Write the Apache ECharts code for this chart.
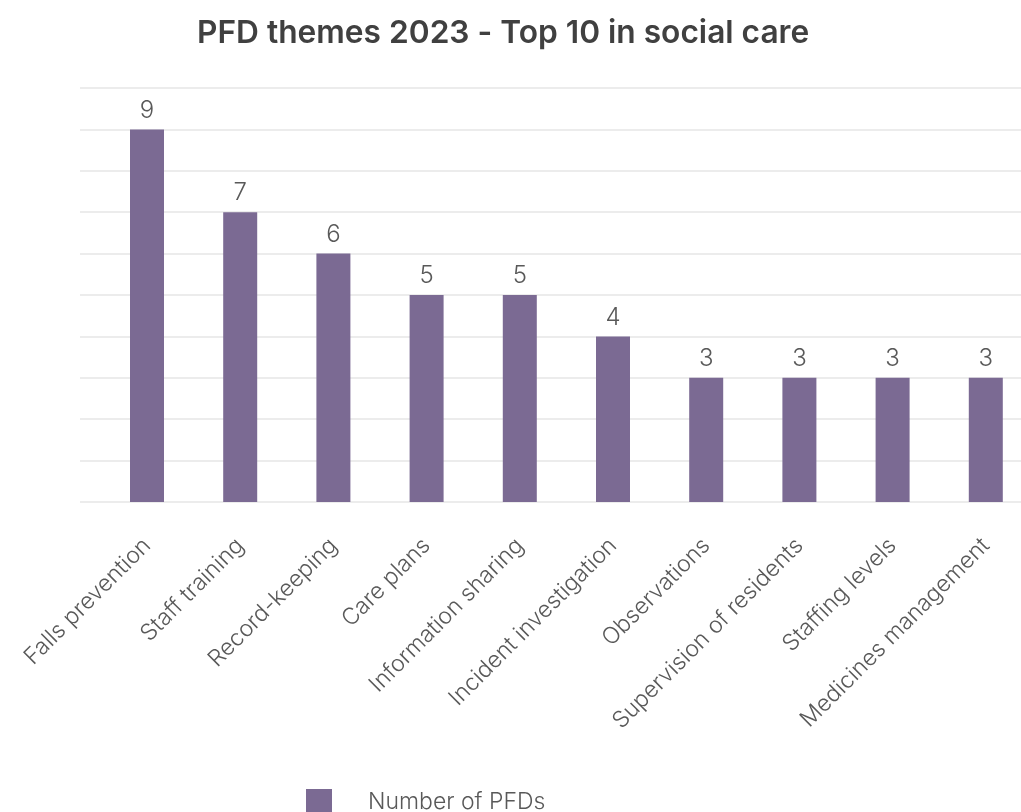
<!DOCTYPE html>
<html><head><meta charset="utf-8">
<script src="https://cdn.jsdelivr.net/npm/echarts@6/dist/echarts.min.js"></script>
<style>html,body{margin:0;padding:0;background:#fff;overflow:hidden}#c{width:1040px;height:812px}</style>
</head><body><div id="c"></div>
<script>
const titleText = 'PFD themes 2023 - Top 10 in social care';
const categories = ['Falls prevention','Staff training','Record-keeping','Care plans','Information sharing','Incident investigation','Observations','Supervision of residents','Staffing levels','Medicines management'];
const seriesName = 'Number of PFDs';
const values = [9,7,6,5,5,4,3,3,3,3];

const chart = echarts.init(document.getElementById('c'));
const font = 'Inter, "Open Sans", sans-serif';
chart.setOption({
  animation: false,
  title: {text: titleText, left: 192, top: 12,
    textStyle: {fontFamily: font, fontSize: 31.7, fontWeight: 600, color: '#404040'}},
  legend: {data: [seriesName], left: 301, top: 784, itemWidth: 26, itemHeight: 26, icon: 'rect',
    textStyle: {fontFamily: font, fontSize: 23, fontWeight: 300, color: '#595959', padding: [0,0,0,31]}},
  grid: [
    {left: 100.4, width: 932, top: 88, height: 414, containLabel: false},
    {left: 80, width: 941, top: 88, height: 414, containLabel: false}
  ],
  xAxis: [
    {type: 'category', data: categories, gridIndex: 0,
      axisLine: {show: false}, axisTick: {show: false},
      axisLabel: {rotate: 45, interval: 0, margin: 40, fontFamily: font, fontSize: 23, fontWeight: 300, color: '#595959'}},
    {type: 'value', gridIndex: 1, min: 0, max: 1, show: false}
  ],
  yAxis: [
    {type: 'value', gridIndex: 0, min: 0, max: 10, interval: 1, show: false, splitLine: {show: false}},
    {type: 'value', gridIndex: 1, min: 0, max: 10, interval: 1,
      axisLine: {show: false}, axisTick: {show: false}, axisLabel: {show: false},
      splitLine: {show: true, lineStyle: {color: '#e6e6e6', width: 1.5}}}
  ],
  series: [
    {name: seriesName, type: 'bar', xAxisIndex: 0, yAxisIndex: 0, data: values, barWidth: 34,
      itemStyle: {color: '#7b6a93'}, z: 3,
      label: {show: true, position: 'top', distance: 7, fontFamily: font, fontSize: 24, fontWeight: 300, color: '#595959'}},
    {type: 'line', xAxisIndex: 1, yAxisIndex: 1, data: [], silent: true}
  ]
});
</script></body></html>
